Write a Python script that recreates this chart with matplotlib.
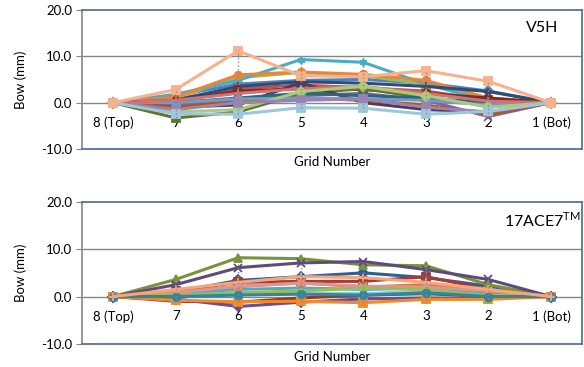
import matplotlib
matplotlib.use('Agg')
import matplotlib.pyplot as plt
import numpy as np

plt.rcParams['font.family'] = ['Lato', 'DejaVu Sans']
plt.rcParams['mathtext.fontset'] = 'custom'
plt.rcParams['mathtext.rm'] = 'Lato'

# Grid positions, top to bottom of the panel
grids = ['8 (Top)', '7', '6', '5', '4', '3', '2', '1 (Bot)']

# Bow (mm) per panel at each grid, V5H
v5h_series = [
    [0, 1.5, 4.0, 4.8, 5.0, 4.2, 2.5, 0],
    [0, 0.8, 3.0, 3.8, 3.2, 2.5, 0.5, 0],
    [0, 1.0, 5.4, 6.5, 5.8, 4.0, 0.5, 0],
    [0, -0.5, 0.5, 1.5, 2.0, 0.5, -3.0, 0],
    [0, 1.8, 4.8, 9.3, 8.7, 4.0, 0.3, 0],
    [0, 1.2, 6.0, 6.6, 6.1, 4.8, 1.0, 0],
    [0, 0.5, 3.5, 4.5, 4.2, 3.5, 2.4, 0],
    [0, 0.3, 2.5, 3.0, 2.8, 2.0, 1.0, 0],
    [0, -3.3, -2.0, 2.0, 3.0, 1.0, -0.5, 0],
    [0, -1.0, -0.5, 4.3, 0.0, -1.5, -2.0, 0],
    [0, 0.0, 1.0, 2.0, 1.5, 1.0, 0.0, 0],
    [0, -1.0, 0.5, 1.0, 0.5, -0.5, -2.5, 0],
    [0, 0.0, 0.8, 1.0, 0.8, 0.5, -0.5, 0],
    [0, 0.5, 2.0, 3.0, 3.5, 2.0, 0.3, 0],
    [0, -2.0, -1.5, 2.4, 3.5, 1.5, -1.0, 0],
    [0, -1.5, 0.0, 0.5, 0.8, -1.0, -2.0, 0],
    [0, -2.4, -2.5, -1.1, -1.2, -2.5, -1.9, 0],
    [0, 2.8, 11.2, 5.8, 5.6, 6.9, 4.6, 0],
]

# Bow (mm) per panel at each grid, 17ACE7
ace7_series = [
    [0, 1.0, 3.4, 4.2, 5.0, 4.0, 2.2, 0],
    [0, 1.2, 3.0, 3.2, 3.2, 4.2, 1.5, 0],
    [0, 3.6, 8.2, 8.0, 6.7, 6.5, 2.5, 0],
    [0, 2.5, 6.1, 7.1, 7.4, 5.7, 3.6, 0],
    [0, 0.5, 1.5, 1.8, 1.5, 1.8, 0.5, 0],
    [0, 1.0, 2.1, 2.9, 2.0, 2.5, 1.0, 0],
    [0, -1.0, -1.2, -0.3, 0.3, 0.6, 0.0, 0],
    [0, -0.5, -2.1, -1.2, -0.5, -0.3, -0.4, 0],
    [0, -0.8, -1.1, -1.0, -1.3, -0.6, -0.6, 0],
    [0, 0.2, 0.5, 0.8, 0.6, 1.2, 0.2, 0],
    [0, 0.8, 2.2, 2.8, 2.2, 2.0, 1.2, 0],
    [0, 0.3, 0.8, 1.2, 1.8, 1.5, 0.2, 0],
    [0, 0.0, 0.3, 0.5, 0.3, 0.8, 0.0, 0],
    [0, 1.5, 3.0, 4.2, 4.0, 3.0, 1.5, 0],
]

v5h_colors = ['#4F81BD', '#C0504D', '#9BBB59', '#8064A2', '#4BACC6', '#E9843A',
              '#2C4D75', '#772C2A', '#5F7530', '#4D3B62', '#276A7C', '#B65708',
              '#729ACA', '#CD7371', '#AFC97A', '#9983B5', '#9DC8DA', '#F6B28C']
ace7_colors = ['#2F5F96', '#A33B38', '#77933C', '#604A7B', '#4BACC6', '#D9782E',
               '#953735', '#6B4F8E', '#F08A2C', '#93CDDD', '#D99694', '#9BBB59',
               '#31859C', '#F4A77A']
markers = ['D', 's', '^', 'x', (6, 2, 0), 'o', '+', 'D', 's', '^', 'x',
           (6, 2, 0), 'o', '+', 'D', 's', 's', 's']

fig = plt.figure(figsize=(5.84, 3.67), dpi=100)
ax1 = fig.add_axes([0.140, 0.594, 0.857, 0.379])
ax2 = fig.add_axes([0.140, 0.063, 0.857, 0.387])

x = np.arange(len(grids))


def draw_panel(ax, series, colors, name):
    data = np.array(series)
    for i, vals in enumerate(series):
        ax.plot(x, vals, color=colors[i], marker=markers[i], markersize=5.5,
                markeredgewidth=1.3, linewidth=2.2, zorder=3 + i * 0.01)
    # high-low lines across all series
    ax.vlines(x[1:-1], data.min(axis=0)[1:-1], data.max(axis=0)[1:-1],
              colors='#8C8C8C', linestyles=':', linewidth=1.0, zorder=5)
    ax.set_xlim(-0.5, len(grids) - 0.5)
    ax.set_ylim(-10, 20)
    ax.set_yticks([-10, 0, 10, 20])
    ax.set_yticklabels(['-10.0', '0.0', '10.0', '20.0'], fontsize=9.5)
    ax.tick_params(axis='y', direction='out', length=4, color='#868686', pad=3)
    ax.set_xticks([])
    for y in (0, 10):
        ax.axhline(y, color='#868686', linewidth=1.0, zorder=1)
    for side in ['top', 'right', 'bottom']:
        ax.spines[side].set_color('#4A6890')
        ax.spines[side].set_linewidth(1.2)
    ax.spines['left'].set_color('#868686')
    ax.spines['left'].set_linewidth(1.2)
    for xi, lab in zip(x, grids):
        ax.annotate(lab, (xi, 0), xytext=(0, -10), textcoords='offset points',
                    ha='center', va='top', fontsize=9.5)
    ax.set_ylabel('Bow (mm)', fontsize=9.5, labelpad=10)
    ax.set_xlabel('Grid Number', fontsize=9.5, labelpad=5)
    ax.text(0.92, 0.87, name, transform=ax.transAxes, ha='center', va='center',
            fontsize=11.5)


draw_panel(ax1, v5h_series, v5h_colors, 'V5H')
draw_panel(ax2, ace7_series, ace7_colors, r'17ACE7$^{\mathrm{TM}}$')

fig.savefig('out.png', dpi=100)
